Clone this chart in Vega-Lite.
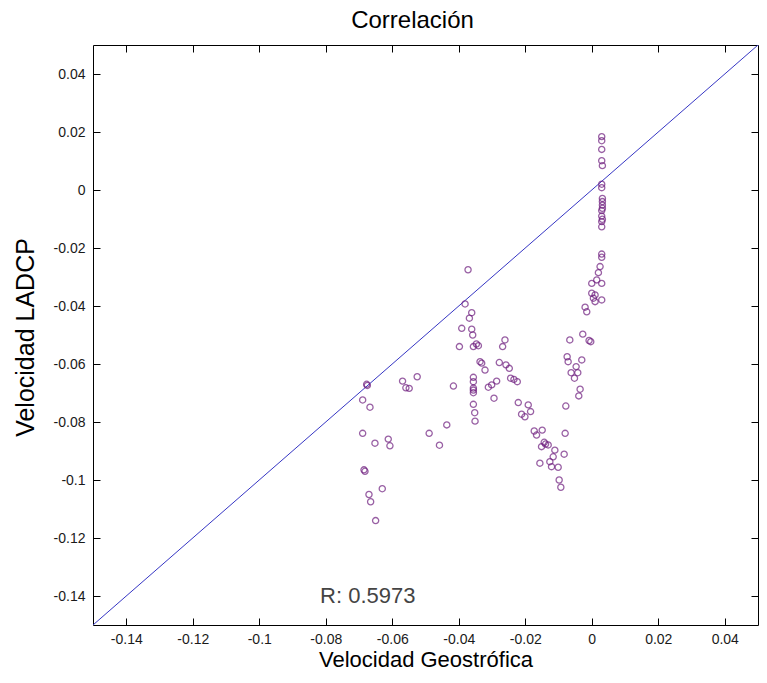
{
  "$schema": "https://vega.github.io/schema/vega-lite/v6.json",
  "width": 665,
  "height": 580,
  "autosize": {"type": "none"},
  "padding": {"left": 93, "top": 45, "right": 9, "bottom": 58},
  "background": "white",
  "config": {"view": {"stroke": null}, "font": "Liberation Sans"},
  "title": {"text": "Correlación", "fontSize": 24, "fontWeight": "normal", "font": "Liberation Sans", "color": "#000", "anchor": "middle", "frame": "group", "offset": 15, "baseline": "alphabetic", "dx": -13, "dy": 22},
  "datasets": {
    "diag": [{"x": -0.15, "y": -0.15}, {"x": 0.05, "y": 0.05}],
    "pts": [
      {"x": 0.0030, "y": 0.0184}, {"x": 0.0030, "y": 0.0170}, {"x": 0.0030, "y": 0.0140}, {"x": 0.0030, "y": 0.0101},
      {"x": 0.0032, "y": 0.0084}, {"x": 0.0030, "y": 0.0020}, {"x": 0.0030, "y": 0.0008}, {"x": 0.0032, "y": -0.0029},
      {"x": 0.0032, "y": -0.0040}, {"x": 0.0032, "y": -0.0052}, {"x": 0.0032, "y": -0.0063}, {"x": 0.0030, "y": -0.0071},
      {"x": 0.0030, "y": -0.0090}, {"x": 0.0032, "y": -0.0101}, {"x": 0.0030, "y": -0.0109}, {"x": 0.0030, "y": -0.0127},
      {"x": 0.0030, "y": -0.0221}, {"x": 0.0030, "y": -0.0232}, {"x": 0.0025, "y": -0.0264}, {"x": 0.0020, "y": -0.0285},
      {"x": 0.0015, "y": -0.0310}, {"x": 0.0000, "y": -0.0322}, {"x": 0.0030, "y": -0.0322}, {"x": 0.0000, "y": -0.0356},
      {"x": 0.0010, "y": -0.0362}, {"x": 0.0005, "y": -0.0373}, {"x": 0.0030, "y": -0.0379}, {"x": 0.0010, "y": -0.0385},
      {"x": -0.0020, "y": -0.0404}, {"x": -0.0015, "y": -0.0420},
      {"x": -0.0066, "y": -0.0517}, {"x": -0.0027, "y": -0.0497}, {"x": -0.0008, "y": -0.0519}, {"x": -0.0003, "y": -0.0523},
      {"x": -0.0074, "y": -0.0575}, {"x": -0.0071, "y": -0.0592}, {"x": -0.0030, "y": -0.0586}, {"x": -0.0047, "y": -0.0609},
      {"x": -0.0062, "y": -0.0630}, {"x": -0.0042, "y": -0.0630}, {"x": -0.0052, "y": -0.0649}, {"x": -0.0035, "y": -0.0687},
      {"x": -0.0039, "y": -0.0710},
      {"x": -0.0078, "y": -0.0745}, {"x": -0.0080, "y": -0.0839}, {"x": -0.0083, "y": -0.0911}, {"x": -0.0098, "y": -0.1000},
      {"x": -0.0093, "y": -0.1025}, {"x": -0.0221, "y": -0.0733}, {"x": -0.0191, "y": -0.0741}, {"x": -0.0184, "y": -0.0764},
      {"x": -0.0211, "y": -0.0773}, {"x": -0.0201, "y": -0.0782}, {"x": -0.0173, "y": -0.0831}, {"x": -0.0149, "y": -0.0828},
      {"x": -0.0166, "y": -0.0845}, {"x": -0.0143, "y": -0.0870}, {"x": -0.0139, "y": -0.0876}, {"x": -0.0151, "y": -0.0885},
      {"x": -0.0131, "y": -0.0879}, {"x": -0.0111, "y": -0.0897}, {"x": -0.0116, "y": -0.0920}, {"x": -0.0156, "y": -0.0942},
      {"x": -0.0126, "y": -0.0937}, {"x": -0.0121, "y": -0.0954}, {"x": -0.0101, "y": -0.0956},
      {"x": -0.0381, "y": -0.0393}, {"x": -0.0361, "y": -0.0423}, {"x": -0.0368, "y": -0.0442}, {"x": -0.0391, "y": -0.0477},
      {"x": -0.0361, "y": -0.0480}, {"x": -0.0358, "y": -0.0500}, {"x": -0.0398, "y": -0.0540}, {"x": -0.0356, "y": -0.0540},
      {"x": -0.0347, "y": -0.0531}, {"x": -0.0341, "y": -0.0537}, {"x": -0.0261, "y": -0.0517}, {"x": -0.0268, "y": -0.0540},
      {"x": -0.0336, "y": -0.0592}, {"x": -0.0331, "y": -0.0597}, {"x": -0.0321, "y": -0.0621}, {"x": -0.0278, "y": -0.0595},
      {"x": -0.0258, "y": -0.0603}, {"x": -0.0248, "y": -0.0615}, {"x": -0.0244, "y": -0.0649}, {"x": -0.0234, "y": -0.0653},
      {"x": -0.0224, "y": -0.0661}, {"x": -0.0356, "y": -0.0646}, {"x": -0.0356, "y": -0.0661}, {"x": -0.0356, "y": -0.0683},
      {"x": -0.0356, "y": -0.0690}, {"x": -0.0356, "y": -0.0699}, {"x": -0.0286, "y": -0.0659}, {"x": -0.0301, "y": -0.0672},
      {"x": -0.0311, "y": -0.0680}, {"x": -0.0416, "y": -0.0676}, {"x": -0.0294, "y": -0.0718}, {"x": -0.0356, "y": -0.0739},
      {"x": -0.0352, "y": -0.0768}, {"x": -0.0351, "y": -0.0797}, {"x": -0.0436, "y": -0.0810}, {"x": -0.0458, "y": -0.0880},
      {"x": -0.0677, "y": -0.0670}, {"x": -0.0675, "y": -0.0674}, {"x": -0.0569, "y": -0.0659}, {"x": -0.0559, "y": -0.0682},
      {"x": -0.0549, "y": -0.0684}, {"x": -0.0525, "y": -0.0644}, {"x": -0.0689, "y": -0.0724}, {"x": -0.0667, "y": -0.0749},
      {"x": -0.0689, "y": -0.0839}, {"x": -0.0652, "y": -0.0873}, {"x": -0.0612, "y": -0.0859}, {"x": -0.0607, "y": -0.0882},
      {"x": -0.0489, "y": -0.0839},
      {"x": -0.0685, "y": -0.0965}, {"x": -0.0682, "y": -0.0970}, {"x": -0.0670, "y": -0.1050}, {"x": -0.0665, "y": -0.1075},
      {"x": -0.0630, "y": -0.1030}, {"x": -0.0650, "y": -0.1140},
      {"x": -0.0372, "y": -0.0275}
    ],
    "note": [{"x": -0.0817, "y": -0.1424, "label": "R: 0.5973"}]
  },
  "layer": [
    {
      "data": {"name": "diag"},
      "mark": {"type": "line", "color": "#3636c4", "strokeWidth": 1, "clip": true},
      "encoding": {
        "x": {"field": "x", "type": "quantitative", "scale": {"domain": [-0.15, 0.05], "nice": false, "zero": false},
          "axis": {"orient": "bottom", "values": [-0.14, -0.12, -0.1, -0.08, -0.06, -0.04, -0.02, 0, 0.02, 0.04],
            "labelExpr": "'' + datum.value", "grid": false, "domainColor": "#000", "domainWidth": 1,
            "tickColor": "#000", "tickSize": -7, "tickWidth": 1, "labelPadding": 14, "labelFontSize": 14,
            "labelColor": "#1a1a1a", "labelFont": "Liberation Sans", "labelFlush": false, "labelOverlap": false,
            "title": "Velocidad Geostrófica", "titleFont": "Liberation Sans", "titleFontSize": 22, "titleFontWeight": "normal",
            "titleColor": "#000", "titleX": 332.5, "titleY": 41, "titleBaseline": "alphabetic"}},
        "y": {"field": "y", "type": "quantitative", "scale": {"domain": [-0.15, 0.05], "nice": false, "zero": false},
          "axis": {"orient": "left", "values": [-0.14, -0.12, -0.1, -0.08, -0.06, -0.04, -0.02, 0, 0.02, 0.04],
            "labelExpr": "'' + datum.value", "grid": false, "domainColor": "#000", "domainWidth": 1,
            "tickColor": "#000", "tickSize": -7, "tickWidth": 1, "labelPadding": 15, "labelFontSize": 14,
            "labelColor": "#1a1a1a", "labelFont": "Liberation Sans", "labelFlush": false, "labelOverlap": false,
            "title": "Velocidad LADCP", "titleFont": "Liberation Sans", "titleFontSize": 25, "titleFontWeight": "normal",
            "titleColor": "#000", "titleX": -60, "titleY": 292, "titleAngle": -90, "titleBaseline": "alphabetic"}}
      }
    },
    {
      "data": {"name": "pts"},
      "mark": {"type": "point", "shape": "circle", "filled": false, "color": "#6e1d7e", "size": 38, "strokeWidth": 1.3},
      "encoding": {
        "x": {"field": "x", "type": "quantitative", "scale": {"domain": [-0.15, 0.05], "nice": false, "zero": false},
          "axis": {"orient": "top", "values": [-0.14, -0.12, -0.1, -0.08, -0.06, -0.04, -0.02, 0, 0.02, 0.04],
            "labels": false, "title": null, "grid": false, "domainColor": "#000", "domainWidth": 1,
            "tickColor": "#000", "tickSize": -7, "tickWidth": 1}},
        "y": {"field": "y", "type": "quantitative", "scale": {"domain": [-0.15, 0.05], "nice": false, "zero": false},
          "axis": {"orient": "right", "values": [-0.14, -0.12, -0.1, -0.08, -0.06, -0.04, -0.02, 0, 0.02, 0.04],
            "labels": false, "title": null, "grid": false, "domainColor": "#000", "domainWidth": 1,
            "tickColor": "#000", "tickSize": -7, "tickWidth": 1}}
      }
    },
    {
      "data": {"name": "note"},
      "mark": {"type": "text", "align": "left", "baseline": "alphabetic", "fontSize": 22, "font": "Liberation Sans", "color": "#444"},
      "encoding": {
        "x": {"field": "x", "type": "quantitative", "scale": {"domain": [-0.15, 0.05], "nice": false, "zero": false}, "axis": null},
        "y": {"field": "y", "type": "quantitative", "scale": {"domain": [-0.15, 0.05], "nice": false, "zero": false}, "axis": null},
        "text": {"field": "label"}
      }
    }
  ],
  "resolve": {"axis": {"x": "independent", "y": "independent"}}
}
